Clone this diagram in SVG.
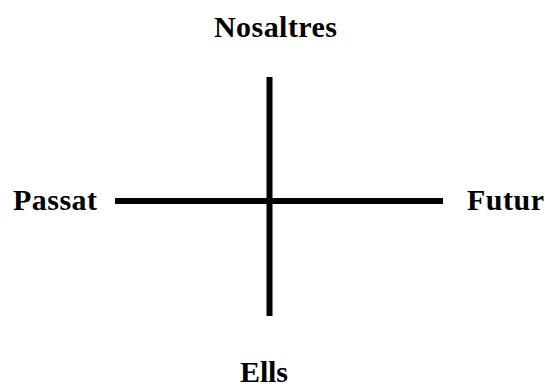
<svg xmlns="http://www.w3.org/2000/svg" width="545" height="387" viewBox="0 0 545 387">
<style>
.lbl{font-family:"Liberation Serif","Times New Roman",serif;font-weight:bold;font-size:30px;fill:#000}
.ax{stroke:#000;stroke-width:6;fill:none}
</style>
<rect width="545" height="387" fill="#fff"/>
<g id="connectors">
<line class="ax" x1="269.5" y1="77" x2="269.5" y2="316"/>
<line class="ax" x1="115" y1="201" x2="443" y2="201"/>
</g>
<g id="nosaltres"><text class="lbl" x="214" y="37" textLength="123">Nosaltres</text></g>
<g id="passat"><text class="lbl" x="13" y="210" textLength="84">Passat</text></g>
<g id="futur"><text class="lbl" x="467" y="210" textLength="77">Futur</text></g>
<g id="ells"><text class="lbl" x="240" y="382" textLength="48">Ells</text></g>
</svg>
